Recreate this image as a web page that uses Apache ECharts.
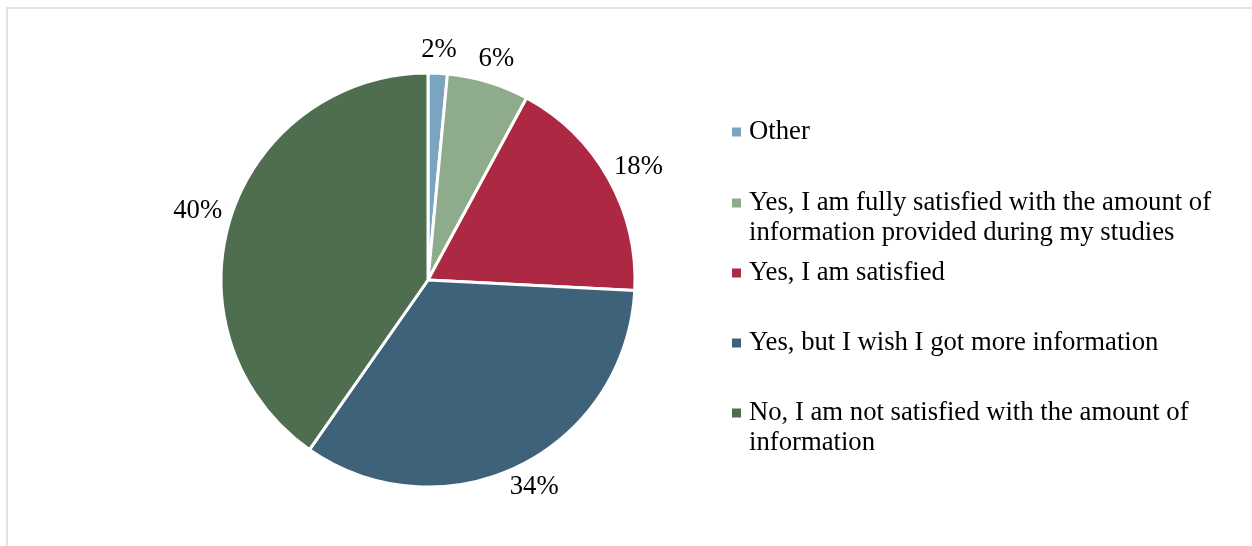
<!DOCTYPE html>
<html>
<head>
<meta charset="utf-8">
<script src="https://cdn.jsdelivr.net/npm/echarts@6/dist/echarts.min.js"></script>
<style>
    html, body {margin: 0; padding: 0; background: #fff;}
    #chart {width: 1252px; height: 546px;}
</style>
</head>
<body>
<div id="chart"></div>
<script>
// Answer categories, in the order they are drawn (clockwise from 12 o'clock)
const categories = [
    'Other',
    'Yes, I am fully satisfied with the amount of\ninformation provided during my studies',
    'Yes, I am satisfied',
    'Yes, but I wish I got more information',
    'No, I am not satisfied with the amount of\ninformation'
];
// Share of answers, percent
const shares = [1.5, 6.4, 17.9, 33.9, 40.3];
const sliceColors = ['#7aa4bf', '#8eab8b', '#ad2842', '#3e627a', '#4f6d4f'];
// Vertical position of each legend entry
const legendTops = [117, 188, 258, 328, 398];

const font = 'Liberation Serif, Times New Roman, serif';
const fontSize = 26.7;
const pieCenter = [428, 280];
const pieRadius = 207;

let myChart = echarts.init(document.getElementById('chart'));

// One legend per entry so the uneven spacing of the original can be kept.
// The icon path keeps the square level with the first line of text.
let legends = categories.map((name, i) => {
    let twoLines = name.indexOf('\n') >= 0;
    let boxH = twoLines ? 39 : 9;
    return {
        orient: 'vertical',
        left: 732,
        top: legendTops[i],
        padding: 0,
        itemWidth: 12,
        itemHeight: boxH,
        selectedMode: false,
        itemStyle: {borderWidth: 0},
        data: [{name: name, icon: 'path://M0,0h9v9h-9zM12,' + boxH + 'L12,' + boxH}],
        textStyle: {
            fontFamily: font,
            fontSize: fontSize,
            color: '#000',
            lineHeight: 30
        }
    };
});

// Mid angle (radians, clockwise from 12 o'clock) of each slice
let total = shares.reduce((a, b) => a + b, 0);
let midAngles = [];
let acc = 0;
shares.forEach(v => {
    midAngles.push((acc + v / 2) / total * Math.PI * 2);
    acc += v;
});

// Put each percent label just outside the rim, like Excel's "outside end"
function labelLayout(params) {
    let a = midAngles[params.dataIndex];
    let ux = Math.sin(a);
    let uy = -Math.cos(a);
    let w = params.labelRect.width;
    let h = params.labelRect.height;
    let d = pieRadius + 10;
    return {
        x: pieCenter[0] + ux * d + ux * w / 2,
        y: pieCenter[1] + uy * d + uy * h / 2,
        align: 'center',
        verticalAlign: 'middle'
    };
}

let option = {
    backgroundColor: '#fff',
    animation: false,
    color: sliceColors,
    graphic: [
        {
            // thin frame of the chart area
            type: 'rect',
            shape: {x: 7, y: 8, width: 1400, height: 700},
            style: {fill: 'none', stroke: '#d9d9d9', lineWidth: 1.5},
            silent: true
        }
    ],
    legend: legends,
    series: [
        {
            type: 'pie',
            center: pieCenter,
            radius: [0, pieRadius],
            startAngle: 90,
            clockwise: true,
            avoidLabelOverlap: false,
            itemStyle: {
                borderColor: '#fff',
                borderWidth: 3
            },
            label: {
                show: true,
                position: 'outside',
                fontFamily: font,
                fontSize: fontSize,
                color: '#000',
                formatter: p => Math.round(p.percent) + '%'
            },
            labelLine: {show: false, length: 8, length2: 0},
            labelLayout: labelLayout,
            emphasis: {disabled: true},
            data: categories.map((name, i) => ({name: name, value: shares[i]}))
        }
    ]
};

myChart.setOption(option);
</script>
</body>
</html>
